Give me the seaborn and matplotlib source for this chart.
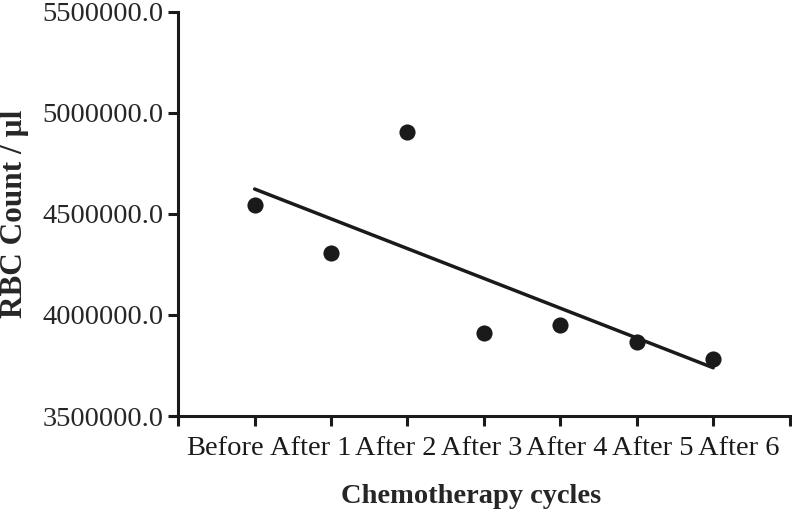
import numpy as np
import pandas as pd
import seaborn as sns
from matplotlib import pyplot as plt

# data
cycles = ["Before", "After 1", "After 2", "After 3", "After 4", "After 5", "After 6"]
rbc_count = [4545000, 4307000, 4906000, 3911000, 3950000, 3866000, 3782000]
y_ticks = [3500000, 4000000, 4500000, 5000000, 5500000]

df = pd.DataFrame({"pos": np.arange(len(cycles)), "rbc": rbc_count})

sns.set_style("ticks")
plt.rcParams["font.family"] = ["Liberation Serif", "DejaVu Serif"]

fig = plt.figure(figsize=(7.92, 5.13), dpi=100)
ax = fig.add_axes([0.225, 0.189, 0.772, 0.788])

sns.regplot(data=df, x="pos", y="rbc", ax=ax, ci=None, truncate=True,
            scatter_kws={"s": 135, "color": "#1a1a1a", "alpha": 1, "linewidths": 0},
            line_kws={"color": "#1a1a1a", "linewidth": 2.5})

ax.set_xlim(-1, 7)
ax.set_ylim(3500000, 5500000)
ax.set_xticks(np.arange(-1, 8))
ax.set_xticklabels([])
ax.set_yticks(y_ticks)
ax.set_yticklabels([f"{v:.1f}" for v in y_ticks])

# the category labels in the original are spread a bit wider than the ticks
label_x = -0.386 + 1.119 * np.arange(len(cycles))
for lx, name in zip(label_x, cycles):
    ax.text(lx, -0.05, name, transform=ax.get_xaxis_transform(),
            ha="center", va="top", fontsize=20.5, color="#1a1a1a")

for s in ["top", "right"]:
    ax.spines[s].set_visible(False)
for s in ["left", "bottom"]:
    ax.spines[s].set_linewidth(2.2)
    ax.spines[s].set_color("#1a1a1a")
ax.tick_params(width=2.2, length=7, color="#1a1a1a", labelsize=20.5, direction="out")

ax.set_xlabel("Chemotherapy cycles", fontsize=20.5, fontweight="bold")
ax.xaxis.set_label_coords(0.479, -0.168)
ax.set_ylabel("RBC Count / µl", fontsize=22.5, fontweight="bold", labelpad=10)

plt.savefig("out.png", dpi=100)
